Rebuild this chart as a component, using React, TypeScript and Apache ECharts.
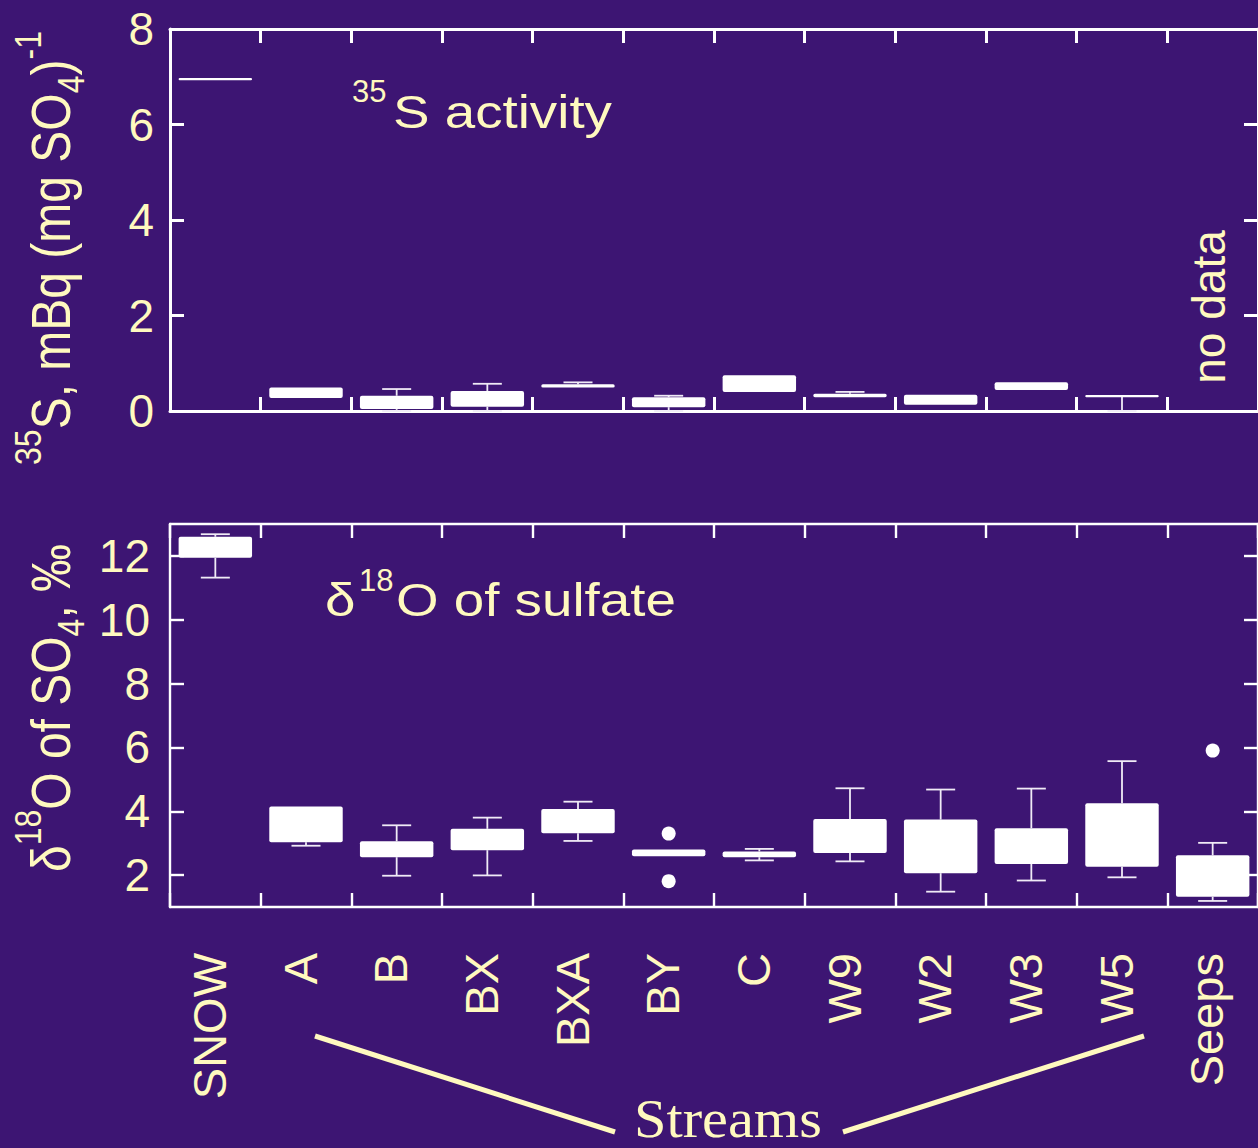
import React, { useEffect, useRef } from 'react';
import * as echarts from 'echarts';

const categories = ['SNOW', 'A', 'B', 'BX', 'BXA', 'BY', 'C', 'W9', 'W2', 'W3', 'W5', 'Seeps'];

// Top panel: 35S activity, mBq (mg SO4)^-1  (null = no data)
const s35Min = [6.95, 0.27, 0.0, 0.0, 0.49, 0.0, 0.4, 0.29, 0.13, 0.44, 0.0, null];
const s35Q1 = [6.95, 0.27, 0.04, 0.09, 0.49, 0.08, 0.4, 0.29, 0.13, 0.44, 0.31, null];
const s35Median = [6.95, 0.38, 0.18, 0.25, 0.52, 0.18, 0.57, 0.32, 0.23, 0.52, 0.31, null];
const s35Q3 = [6.95, 0.49, 0.32, 0.42, 0.56, 0.29, 0.75, 0.36, 0.34, 0.6, 0.31, null];
const s35Max = [6.95, 0.49, 0.46, 0.57, 0.6, 0.32, 0.75, 0.4, 0.34, 0.6, 0.31, null];

// Bottom panel: delta 18O of sulfate, permil
const d18Min = [11.32, 2.92, 1.98, 1.99, 3.07, 2.59, 2.46, 2.43, 1.48, 1.83, 1.93, 1.19];
const d18Q1 = [11.94, 3.03, 2.56, 2.78, 3.31, 2.59, 2.56, 2.69, 2.06, 2.35, 2.26, 1.32];
const d18Median = [12.27, 3.6, 2.8, 3.1, 3.7, 2.7, 2.65, 3.2, 2.9, 2.9, 3.2, 1.95];
const d18Q3 = [12.6, 4.15, 3.06, 3.45, 4.07, 2.8, 2.74, 3.76, 3.74, 3.47, 4.25, 2.62];
const d18Max = [12.68, 4.15, 3.56, 3.8, 4.3, 2.8, 2.82, 4.72, 4.68, 4.71, 5.57, 3.01];

const outlierCategory = ['BY', 'BY', 'Seeps'];
const outlierValue = [3.3, 1.81, 5.9];

const s35Ticks = [0, 2, 4, 6, 8];
const d18Ticks = [2, 4, 6, 8, 10, 12];

const BG = '#3d1573';
const TEXT = '#fff9bf';
const WHITE = '#ffffff';
const WHISKER = '#f0ebf6';
const SANS = '"Liberation Sans", Arial, sans-serif';
const SERIF = '"Liberation Serif", "Times New Roman", serif';

function buildRows(mn: any[], q1: any[], md: any[], q3: any[], mx: any[]) {
  const rows: any[] = [];
  categories.forEach((_, i) => {
    if (mn[i] == null) return;
    rows.push([i, mn[i], q1[i], md[i], q3[i], mx[i]]);
  });
  return rows;
}

function renderBox(params: any, api: any) {
  const idx = api.value(0);
  const vmin = api.value(1);
  const q1 = api.value(2);
  const q3 = api.value(4);
  const vmax = api.value(5);
  const band = api.size([1, 0])[0];
  const bw = band * 0.81;
  const cw = band * 0.32;
  const pMin = api.coord([idx, vmin]);
  const pQ1 = api.coord([idx, q1]);
  const pQ3 = api.coord([idx, q3]);
  const pMax = api.coord([idx, vmax]);
  const cx = pQ1[0];
  const ls = { stroke: WHISKER, lineWidth: 1.8, fill: null };
  const children: any[] = [];
  if (vmax > q3) {
    children.push({ type: 'line', shape: { x1: cx, y1: pQ3[1], x2: cx, y2: pMax[1] }, style: ls });
    children.push({ type: 'line', shape: { x1: cx - cw / 2, y1: pMax[1], x2: cx + cw / 2, y2: pMax[1] }, style: ls });
  }
  if (vmin < q1) {
    children.push({ type: 'line', shape: { x1: cx, y1: pQ1[1], x2: cx, y2: pMin[1] }, style: ls });
    children.push({ type: 'line', shape: { x1: cx - cw / 2, y1: pMin[1], x2: cx + cw / 2, y2: pMin[1] }, style: ls });
  }
  let top = pQ3[1];
  let h = pQ1[1] - pQ3[1];
  if (h < 2.2) {
    top = (pQ1[1] + pQ3[1]) / 2 - 1.1;
    h = 2.2;
  }
  children.push({
    type: 'rect',
    shape: { x: cx - bw / 2, y: top, width: bw, height: h, r: 2 },
    style: { fill: WHITE, stroke: null },
  });
  return { type: 'group', children };
}

function catAxis(gridIndex: number, position: string, lw: number, showLabels: boolean) {
  return {
    type: 'category',
    gridIndex,
    position,
    data: categories,
    boundaryGap: true,
    axisLine: { show: true, onZero: false, lineStyle: { color: WHITE, width: lw } },
    axisTick: { show: true, inside: true, length: 14, lineStyle: { color: WHITE, width: lw } },
    axisLabel: showLabels
      ? {
          show: true,
          interval: 0,
          rotate: 90,
          margin: 46,
          formatter: (v: string) => '{l|' + v + '}',
          rich: {
            l: { fontSize: 47, fontFamily: SANS, color: TEXT, padding: [0, 0, 12, 0] },
          },
          color: TEXT,
          fontSize: 47,
          fontFamily: SANS,
        }
      : { show: false },
    splitLine: { show: false },
  };
}

function valAxis(gridIndex: number, position: string, min: number, max: number, interval: number, ticks: number[], lw: number, showLabels: boolean, margin: number) {
  return {
    type: 'value',
    gridIndex,
    position,
    min,
    max,
    interval,
    axisLine: { show: true, onZero: false, lineStyle: { color: WHITE, width: lw } },
    axisTick: { show: true, inside: true, length: 14, customValues: ticks, lineStyle: { color: WHITE, width: lw } },
    axisLabel: showLabels
      ? { show: true, customValues: ticks, margin, color: TEXT, fontSize: 46, fontFamily: SANS }
      : { show: false },
    splitLine: { show: false },
  };
}

const richTitle = {
  m: { fontSize: 48, fontFamily: SANS, lineHeight: 72, fill: TEXT },
  sup: { fontSize: 32, fontFamily: SANS, verticalAlign: 'top', height: 32, fill: TEXT },
  sub: { fontSize: 32, fontFamily: SANS, verticalAlign: 'bottom', height: 37, fill: TEXT },
};

function plainText(text: string, x: number, y: number, size: number, sx: number, align = 'left') {
  return {
    type: 'text',
    x,
    y,
    scaleX: sx,
    style: { text, align, verticalAlign: 'middle', fill: TEXT, fontSize: size, fontFamily: SANS },
  };
}

export default function App() {
  const ref = useRef<HTMLDivElement>(null);

  useEffect(() => {
    document.body.style.margin = '0';
    document.body.style.background = BG;
    if (!ref.current) return;
    const chart = echarts.init(ref.current, null as any, { renderer: 'svg' });

    const topRows = buildRows(s35Min, s35Q1, s35Median, s35Q3, s35Max);
    const botRows = buildRows(d18Min, d18Q1, d18Median, d18Q3, d18Max);

    chart.setOption({
      animation: false,
      backgroundColor: BG,
      grid: [
        { left: 170, top: 29, width: 1096, height: 382, containLabel: false },
        { left: 170, top: 524, width: 1096, height: 383, containLabel: false },
      ],
      xAxis: [
        catAxis(0, 'bottom', 3, false),
        catAxis(0, 'top', 3, false),
        catAxis(1, 'bottom', 2.4, true),
        catAxis(1, 'top', 2.4, false),
      ],
      yAxis: [
        valAxis(0, 'left', 0, 8, 2, s35Ticks, 3, true, 16),
        valAxis(0, 'right', 0, 8, 2, s35Ticks, 3, false, 16),
        valAxis(1, 'left', 1, 13, 1, d18Ticks, 2.4, true, 20),
        valAxis(1, 'right', 1, 13, 1, d18Ticks, 2.4, false, 20),
      ],
      series: [
        {
          type: 'custom',
          name: '35S activity',
          xAxisIndex: 0,
          yAxisIndex: 0,
          renderItem: renderBox,
          encode: { x: 0, y: [1, 2, 3, 4, 5] },
          data: topRows,
          clip: false,
        },
        {
          type: 'custom',
          name: 'd18O of sulfate',
          xAxisIndex: 2,
          yAxisIndex: 2,
          renderItem: renderBox,
          encode: { x: 0, y: [1, 2, 3, 4, 5] },
          data: botRows,
          clip: false,
        },
        {
          type: 'scatter',
          name: 'outliers',
          xAxisIndex: 2,
          yAxisIndex: 2,
          symbol: 'circle',
          symbolSize: 14,
          itemStyle: { color: WHITE, opacity: 1 },
          data: outlierCategory.map((c, i) => [c, outlierValue[i]]),
        },
      ],
      graphic: [
        {
          type: 'text',
          x: 51,
          y: 248,
          rotation: Math.PI / 2,
          scaleY: 1.15,
          style: {
            text: '{sup|35}{m|S, mBq (mg SO}{sub|4}{m|)}{sup|-1}',
            rich: richTitle,
            align: 'center',
            verticalAlign: 'middle',
            fill: TEXT,
            fontSize: 48,
            fontFamily: SANS,
          },
        },
        {
          type: 'text',
          x: 51,
          y: 708,
          rotation: Math.PI / 2,
          scaleY: 1.15,
          style: {
            text: '{m|δ}{sup|18}{m|O of SO}{sub|4}{m|, ‰}',
            rich: richTitle,
            align: 'center',
            verticalAlign: 'middle',
            fill: TEXT,
            fontSize: 48,
            fontFamily: SANS,
          },
        },
        // "35S activity"
        plainText('35', 352, 91, 31, 1.0),
        plainText('S activity', 393, 112, 46, 1.19),
        // "δ18O of sulfate"
        plainText('δ', 325, 600, 46, 1.19),
        plainText('18', 359, 580, 31, 1.0),
        plainText('O of sulfate', 396, 600, 46, 1.19),
        {
          type: 'text',
          x: 1209,
          y: 307,
          rotation: Math.PI / 2,
          style: {
            text: 'no data',
            align: 'center',
            verticalAlign: 'middle',
            fill: TEXT,
            fontSize: 46,
            fontFamily: SANS,
          },
        },
        {
          type: 'text',
          x: 728,
          y: 1146,
          scaleX: 1.08,
          style: {
            text: 'Streams',
            align: 'center',
            verticalAlign: 'bottom',
            fill: TEXT,
            fontSize: 54,
            fontFamily: SERIF,
          },
        },
        {
          type: 'line',
          shape: { x1: 315, y1: 1036, x2: 615, y2: 1132 },
          style: { stroke: TEXT, lineWidth: 5 },
        },
        {
          type: 'line',
          shape: { x1: 843, y1: 1132, x2: 1144, y2: 1036 },
          style: { stroke: TEXT, lineWidth: 5 },
        },
      ],
    });

    return () => {
      chart.dispose();
    };
  }, []);

  return (
    <div
      ref={ref}
      style={{ position: 'fixed', left: 0, top: 0, width: 1258, height: 1148, background: BG }}
    />
  );
}
